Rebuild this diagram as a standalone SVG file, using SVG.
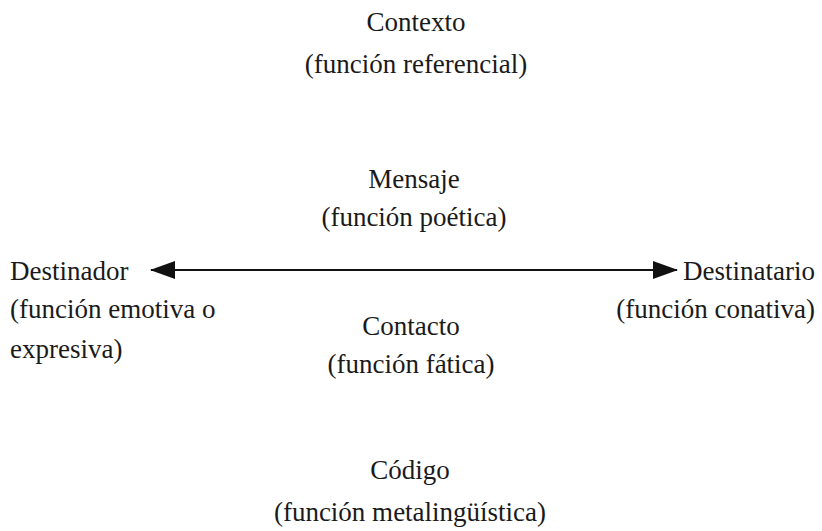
<svg xmlns="http://www.w3.org/2000/svg" width="822" height="531" viewBox="0 0 822 531">
<style>
text{font-family:"Liberation Serif","Times New Roman",serif;font-size:27px;fill:#1a1a1a}
.c{text-anchor:middle}
.r{text-anchor:end}
</style>
<defs>
<marker id="ah" viewBox="0 0 25 18" refX="24" refY="9" markerWidth="25" markerHeight="18" markerUnits="userSpaceOnUse" orient="auto-start-reverse">
<path d="M0,0 L25,9 L0,18 Z" fill="#111"/>
</marker>
</defs>
<rect width="822" height="531" fill="#fff"/>
<g id="contexto"><text class="c" x="416" y="31">Contexto</text><text class="c" x="416" y="73">(función referencial)</text></g>
<g id="mensaje"><text class="c" x="414" y="188">Mensaje</text><text class="c" x="414" y="226">(función poética)</text></g>
<g id="destinador"><text x="10" y="280">Destinador</text><text x="10" y="318">(función emotiva o</text><text x="10" y="358">expresiva)</text></g>
<g id="destinatario"><text class="r" x="815" y="280">Destinatario</text><text class="r" x="815" y="318">(función conativa)</text></g>
<g id="contacto"><text class="c" x="411" y="335">Contacto</text><text class="c" x="411" y="373">(función fática)</text></g>
<g id="codigo"><text class="c" x="410" y="479">Código</text><text class="c" x="410" y="521">(función metalingüística)</text></g>
<g id="connectors"><line x1="151" y1="270" x2="677" y2="270" stroke="#111" stroke-width="2" marker-start="url(#ah)" marker-end="url(#ah)"/></g>
</svg>
